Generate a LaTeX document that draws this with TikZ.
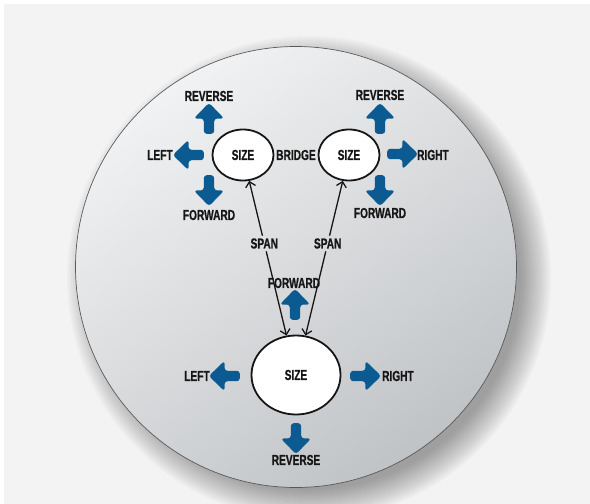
\documentclass[tikz,border=0pt]{standalone}
\usepackage{fontspec}
\newfontfamily\lblfont{Liberation Sans}[FakeStretch=0.7,BoldFeatures={FakeBold=0.8}]
\usetikzlibrary{shapes.geometric,shapes.arrows,arrows.meta}
\definecolor{arrblue}{HTML}{0B5A92}
\definecolor{bggray}{HTML}{F3F3F3}
\definecolor{disctop}{HTML}{F1F2F3}
\definecolor{discbot}{HTML}{C0C3C6}
\definecolor{ink}{HTML}{161616}
\tikzset{
    lbl/.style={font=\lblfont\bfseries\fontsize{14.5}{14.5}\selectfont,text=ink,inner sep=1pt},
    szell/.style={ellipse,draw=ink,line width=1.8pt,fill=white,lbl,inner sep=0pt},
    blk/.style={single arrow,fill=arrblue,inner xsep=0pt,inner ysep=5pt,
        minimum height=31pt,single arrow head extend=10pt,single arrow head indent=0pt,
        single arrow tip angle=88,rounded corners=3pt}
}
\begin{document}
\begin{tikzpicture}[x=1pt,y=-1pt,>={Straight Barb[length=5pt,width=10pt]}]
    \useasboundingbox (0,0) rectangle (590,504);
    \fill[white](0,0) rectangle (590,504);
    \fill[bggray](4,4) rectangle (590,504);
% soft shadow of the disc
\foreach \r in {212,214,...,242}
{
    \fill[black,opacity=.025](309,278) circle (\r);
}
    \shade[top color=disctop,bottom color=discbot,shading angle=35](296,267) circle (220.5);
    \draw[black!65,line width=.7pt](296,267) circle (220.5);
% the three sizes
    \node[szell,minimum width=61pt,minimum height=51pt](szTL) at (243,155) {SIZE};
    \node[szell,minimum width=61pt,minimum height=51pt](szTR) at (349,155) {SIZE};
    \node[szell,minimum width=89pt,minimum height=79pt](szB) at (296,375) {SIZE};
    \node[lbl](bridge) at (296,155) {BRIDGE};
% spans
\path (szTL) -- node[lbl,inner sep=2.5pt,pos=.405](spanL) {SPAN} (szB);
\path (szTR) -- node[lbl,inner sep=2.5pt,pos=.405](spanR) {SPAN} (szB);
    \draw[->,line width=1.3pt,ink](spanL)--(szTL);
    \draw[->,line width=1.3pt,ink](spanL)--(szB);
    \draw[->,line width=1.3pt,ink](spanR)--(szTR);
    \draw[->,line width=1.3pt,ink](spanR)--(szB);
% moves, left size
    \node[blk,rotate=90](aTLu) at (209,121) {};
    \node[blk,rotate=180](aTLl) at (191,155) {};
    \node[blk,rotate=270](aTLd) at (209,188) {};
    \node[lbl](revTL) at (209,96) {REVERSE};
    \node[lbl](lftTL) at (160,155) {LEFT};
    \node[lbl](fwdTL) at (209,215) {FORWARD};
% moves, right size
    \node[blk,rotate=90](aTRu) at (380,121) {};
    \node[blk](aTRr) at (400,154) {};
    \node[blk,rotate=270](aTRd) at (380,188) {};
    \node[lbl](revTR) at (380,95) {REVERSE};
    \node[lbl](rgtTR) at (433,155) {RIGHT};
    \node[lbl](fwdTR) at (380,213) {FORWARD};
% moves, big size
    \node[blk,rotate=90](aBu) at (295,307) {};
    \node[blk,rotate=180](aBl) at (227,376) {};
    \node[blk](aBr) at (363,376) {};
    \node[blk,rotate=270](aBd) at (296,436) {};
    \node[lbl](fwdB) at (294,283) {FORWARD};
    \node[lbl](lftB) at (197,376) {LEFT};
    \node[lbl](rgtB) at (398,376) {RIGHT};
    \node[lbl](revB) at (296,460) {REVERSE};
\end{tikzpicture}
\end{document}
